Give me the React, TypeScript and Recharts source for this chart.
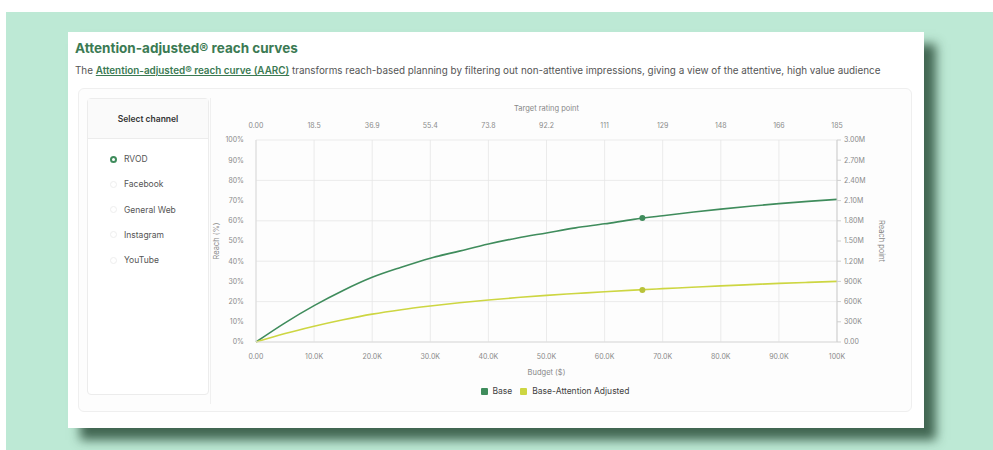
import {
  LineChart,
  Line,
  XAxis,
  YAxis,
  CartesianGrid,
  Legend,
  ReferenceDot,
} from "recharts";

const budgets = [0, 5000, 10000, 15000, 20000, 25000, 30000, 35000, 40000, 45000, 50000, 55000, 60000, 65000, 70000, 75000, 80000, 85000, 90000, 95000, 100000];
const baseReach = [0, 9.5, 18, 25.5, 32, 37, 41.5, 45, 48.5, 51.5, 54, 56.5, 58.5, 60.7, 62.5, 64.2, 65.8, 67.2, 68.5, 69.6, 70.6];
const attentionReach = [0, 4.2, 7.8, 11, 13.8, 16, 17.8, 19.4, 20.8, 22, 23.1, 24, 24.9, 25.7, 26.4, 27.1, 27.8, 28.4, 29, 29.5, 30];

const budgetTicks = [0, 10000, 20000, 30000, 40000, 50000, 60000, 70000, 80000, 90000, 100000];
const budgetLabels = ["0.00", "10.0K", "20.0K", "30.0K", "40.0K", "50.0K", "60.0K", "70.0K", "80.0K", "90.0K", "100K"];
const trpLabels = ["0.00", "18.5", "36.9", "55.4", "73.8", "92.2", "111", "129", "148", "166", "185"];
const percentTicks = [0, 10, 20, 30, 40, 50, 60, 70, 80, 90, 100];
const reachPointLabels = ["0.00", "300K", "600K", "900K", "1.20M", "1.50M", "1.80M", "2.10M", "2.40M", "2.70M", "3.00M"];

const channels = ["RVOD", "Facebook", "General Web", "Instagram", "YouTube"];

// selected point on the curves
const markerBudget = 66500;
const markerBase = 61.4;
const markerAttention = 25.8;

const BASE_COLOR = "#3f8c5c";
const ATTN_COLOR = "#cdd642";
const FONT = "Inter, 'Noto Sans', sans-serif";

const data = budgets.map((b, i) => ({
  budget: b,
  base: baseReach[i],
  attention: attentionReach[i],
}));

const tickStyle = { fontSize: 7, fill: "#8a8a8a", fontFamily: FONT };

function LegendContent() {
  const items = [
    { name: "Base", color: BASE_COLOR },
    { name: "Base-Attention Adjusted", color: ATTN_COLOR },
  ];
  return (
    <div style={{ height: 28, display: "flex", alignItems: "center", justifyContent: "center", gap: 8, fontSize: 8.5, fontFamily: FONT, color: "#444" }}>
      {items.map((it) => (
        <div key={it.name} style={{ display: "flex", alignItems: "center", gap: 5 }}>
          <span style={{ width: 7, height: 7, background: it.color, display: "inline-block", borderRadius: 1 }} />
          {it.name}
        </div>
      ))}
    </div>
  );
}

export default function App() {
  return (
    <div style={{ position: "fixed", left: 0, top: 0, width: 993, height: 450, background: "#fff", fontFamily: FONT, overflow: "hidden" }}>
      <div style={{ position: "absolute", left: 6, top: 12, width: 987, height: 438, background: "#bde9d5" }} />
      <div
        style={{
          position: "absolute",
          left: 68,
          top: 32,
          width: 856,
          height: 396,
          background: "#fff",
          boxShadow: "12px 12px 10px rgba(45,80,60,0.85)",
        }}
      />
      <div style={{ position: "absolute", left: 75, top: 40, fontSize: 13.5, fontWeight: 700, color: "#3b7a53" }}>
        Attention-adjusted® reach curves
      </div>
      <div style={{ position: "absolute", left: 75, top: 64, fontSize: 9.9, color: "#555", whiteSpace: "nowrap" }}>
        The{" "}
        <span style={{ color: "#3b7a53", fontWeight: 600, textDecoration: "underline" }}>
          Attention-adjusted® reach curve (AARC)
        </span>{" "}
        transforms reach-based planning by filtering out non-attentive impressions, giving a view of the attentive, high value audience
      </div>
      <div
        style={{
          position: "absolute",
          left: 78,
          top: 88,
          width: 832,
          height: 322,
          border: "1px solid #efefef",
          borderRadius: 6,
          background: "#fdfdfd",
        }}
      />
      <div
        style={{
          position: "absolute",
          left: 87,
          top: 98,
          width: 120,
          height: 295,
          border: "1px solid #ececec",
          borderRadius: 4,
          background: "#fff",
        }}
      >
        <div style={{ height: 39, borderBottom: "1px solid #ececec", background: "#fafafa", display: "flex", alignItems: "center", justifyContent: "center", fontSize: 8.5, fontWeight: 600, color: "#333" }}>
          Select channel
        </div>
        {channels.map((c, i) => (
          <div key={c} style={{ position: "absolute", left: 22, top: 55 + i * 25.3, display: "flex", alignItems: "center", gap: 7, fontSize: 8.5, color: "#555" }}>
            <span
              style={{
                width: 7,
                height: 7,
                borderRadius: "50%",
                boxSizing: "border-box",
                border: i === 0 ? `2px solid ${BASE_COLOR}` : "1px solid #eee",
                background: "#fff",
                display: "inline-block",
              }}
            />
            {c}
          </div>
        ))}
      </div>
      <div style={{ position: "absolute", left: 210, top: 98, width: 694, height: 306, borderLeft: "1px solid #f0f0f0" }} />
      <div style={{ position: "absolute", left: 205, top: 100 }}>
        <LineChart width={700} height={305} data={data} margin={{ top: 0, right: 0, bottom: 0, left: 0 }}>
          <CartesianGrid stroke="#e6e6e6" strokeWidth={0.8} xAxisId="bottom" yAxisId="left" />
          <XAxis
            xAxisId="bottom"
            dataKey="budget"
            type="number"
            domain={[0, 100000]}
            ticks={budgetTicks}
            tickFormatter={(v: number) => budgetLabels[budgetTicks.indexOf(v)] ?? ""}
            tick={tickStyle}
            tickLine={false}
            tickMargin={6}
            axisLine={{ stroke: "#dcdcdc" }}
            height={35}
            label={{ value: "Budget ($)", position: "insideBottom", offset: 2, style: { fontSize: 7.5, fill: "#888", fontFamily: FONT } }}
          />
          <XAxis
            xAxisId="top"
            orientation="top"
            dataKey="budget"
            type="number"
            domain={[0, 100000]}
            ticks={budgetTicks}
            tickFormatter={(v: number) => trpLabels[budgetTicks.indexOf(v)] ?? ""}
            tick={tickStyle}
            tickLine={false}
            tickMargin={6}
            axisLine={false}
            height={40}
            label={{ value: "Target rating point", position: "insideTop", offset: 6, style: { fontSize: 7.5, fill: "#888", fontFamily: FONT } }}
          />
          <YAxis
            yAxisId="left"
            type="number"
            domain={[0, 100]}
            ticks={percentTicks}
            tickFormatter={(v: number) => `${v}%`}
            tick={tickStyle}
            tickLine={false}
            tickMargin={6}
            axisLine={{ stroke: "#dcdcdc" }}
            width={51}
            label={{ value: "Reach (%)", angle: -90, position: "insideLeft", offset: 11, style: { textAnchor: "middle", fontSize: 7.5, fill: "#888", fontFamily: FONT } }}
          />
          <YAxis
            yAxisId="right"
            orientation="right"
            type="number"
            domain={[0, 100]}
            ticks={percentTicks}
            tickFormatter={(v: number) => reachPointLabels[percentTicks.indexOf(v)] ?? ""}
            tick={tickStyle}
            tickSize={4}
            tickLine={{ stroke: "#cfcfcf" }}
            tickMargin={3}
            axisLine={{ stroke: "#cfcfcf" }}
            width={68}
            label={{ value: "Reach point", angle: 90, position: "insideRight", offset: 23, style: { textAnchor: "middle", fontSize: 7.5, fill: "#888", fontFamily: FONT } }}
          />
          <Line
            xAxisId="bottom"
            yAxisId="left"
            type="monotone"
            dataKey="base"
            name="Base"
            stroke={BASE_COLOR}
            strokeWidth={1.6}
            dot={false}
            isAnimationActive={false}
          />
          <Line
            xAxisId="top"
            yAxisId="right"
            type="monotone"
            dataKey="attention"
            name="Base-Attention Adjusted"
            stroke={ATTN_COLOR}
            strokeWidth={1.6}
            dot={false}
            isAnimationActive={false}
          />
          <ReferenceDot xAxisId="bottom" yAxisId="left" x={markerBudget} y={markerBase} r={3} fill={BASE_COLOR} stroke="none" />
          <ReferenceDot xAxisId="bottom" yAxisId="left" x={markerBudget} y={markerAttention} r={3} fill="#b9c23a" stroke="none" />
          <Legend verticalAlign="bottom" wrapperStyle={{ height: 28 }} content={<LegendContent />} />
        </LineChart>
      </div>
    </div>
  );
}
